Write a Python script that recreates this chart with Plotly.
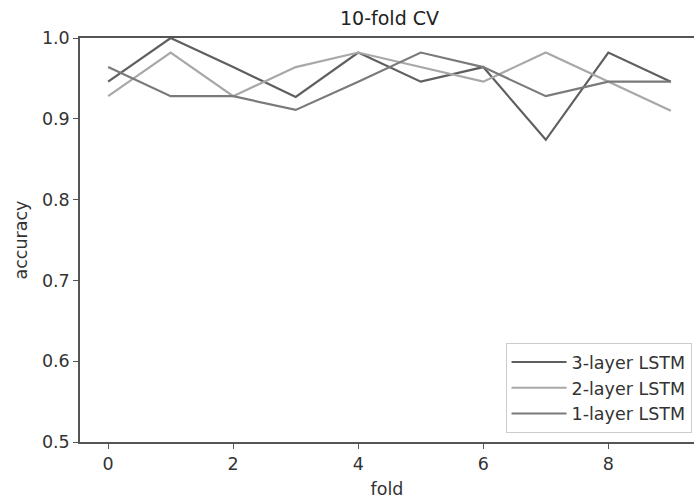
import plotly.graph_objects as go

folds = list(range(10))
acc_3layer = [0.946, 1.000, 0.964, 0.927, 0.982, 0.946, 0.964, 0.874, 0.982, 0.946]
acc_2layer = [0.928, 0.982, 0.928, 0.964, 0.982, 0.964, 0.946, 0.982, 0.946, 0.910]
acc_1layer = [0.964, 0.928, 0.928, 0.911, 0.946, 0.982, 0.964, 0.928, 0.946, 0.946]

series = [
    ("3-layer LSTM", acc_3layer, "#5f5f5f"),
    ("2-layer LSTM", acc_2layer, "#a8a8a8"),
    ("1-layer LSTM", acc_1layer, "#7a7a7a"),
]

FONT = "DejaVu Sans"
FS = 17.5
fig = go.Figure()
for name, vals, col in series:
    fig.add_trace(go.Scatter(x=folds, y=vals, mode="lines", name=name,
                             line=dict(color=col, width=2.2)))

fig.update_layout(
    width=694, height=504,
    margin=dict(l=80, r=0, t=38, b=62),
    paper_bgcolor="white", plot_bgcolor="white",
    font=dict(family=FONT, size=FS, color="#333333"),
    title=dict(text="10-fold CV", x=(80 + 699) / 2 / 694, xanchor="center",
               y=1 - 18 / 504, yanchor="middle", yref="container",
               font=dict(size=19, color="#222222", family=FONT)),
    showlegend=True,
    legend=dict(x=0.996, xanchor="right", y=0.022, yanchor="bottom",
                bgcolor="rgba(255,255,255,0.9)", bordercolor="#cccccc", borderwidth=1,
                itemwidth=55,
                font=dict(size=FS, color="#333333", family=FONT), tracegroupgap=0),
)
fig.update_xaxes(range=[-0.45, 9.45 - 5 / 62.7], tickvals=[0, 2, 4, 6, 8],
                 showgrid=False, zeroline=False, showline=True, linecolor="#555555",
                 linewidth=1.5, mirror=True, ticks="outside", ticklen=5, tickcolor="#555555",
                 title=dict(text="fold", standoff=10, font=dict(size=FS)))
fig.update_yaxes(range=[0.5, 1.0], tickvals=[0.5, 0.6, 0.7, 0.8, 0.9, 1.0],
                 ticktext=["0.5", "0.6", "0.7", "0.8", "0.9", "1.0"],
                 showgrid=False, zeroline=False, showline=True, linecolor="#555555",
                 linewidth=1.5, mirror=False, ticks="outside", ticklen=5, tickcolor="#555555",
                 title=dict(text="accuracy", standoff=10, font=dict(size=FS)))

fig.write_html("out.html")
